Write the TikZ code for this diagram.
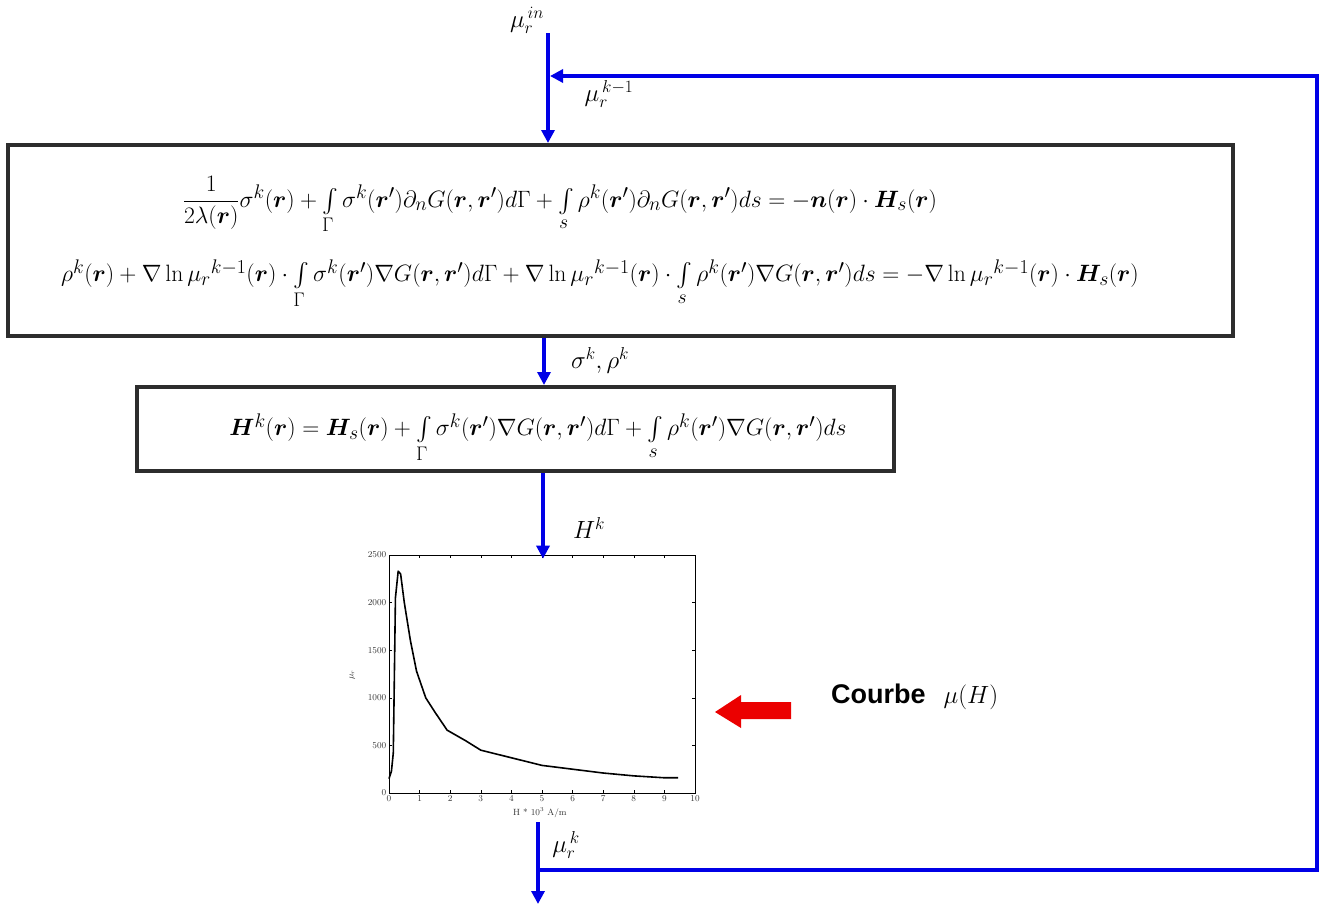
\documentclass[tikz,border=0pt]{standalone}
\usepackage{amsmath,bm}
\usepackage{fontspec}
\newfontfamily\arialfont{Liberation Sans}
\usetikzlibrary{arrows.meta}
\definecolor{flowblue}{RGB}{0,0,230}
\definecolor{boxgray}{RGB}{45,45,45}
\definecolor{arrowred}{RGB}{235,0,0}
\tikzset{
 flow/.style={draw=flowblue, line width=3.5pt, -{Triangle[length=13pt,width=13pt]}},
 eqbox/.style={draw=boxgray, line width=4pt, inner sep=0pt, fill=white},
 eqtext/.style={font=\fontsize{24.88}{28}\selectfont, inner sep=0pt, scale=0.95, transform shape},
 lbl/.style={font=\fontsize{26}{28}\selectfont, inner sep=0pt},
 ticklbl/.style={font=\fontsize{9}{10}\selectfont, inner sep=1pt, text=black!80},
}
\begin{document}
\begin{tikzpicture}[x=1pt,y=-1pt]
\useasboundingbox (0,0) rectangle (1327,905);

% boxes
\node[eqbox, minimum width=1225pt, minimum height=191pt] (b1) at (620.5,240.5) {};
\node[eqbox, minimum width=757pt, minimum height=84pt] (b2) at (515.5,429) {};

\node[eqtext] (e1) at (560,205) {$\dfrac{1}{2\lambda(\bm r)}\sigma^k(\bm r)+\int\limits_\Gamma \sigma^k(\bm r')\partial_n G(\bm r,\bm r')d\Gamma+\int\limits_s \rho^k(\bm r')\partial_n G(\bm r,\bm r')ds=-\bm n(\bm r)\cdot\bm H_s(\bm r)$};
\node[eqtext] (e2) at (600,284) {$\rho^k(\bm r)+\nabla\ln\mu_r{}^{k-1}(\bm r)\cdot\int\limits_\Gamma\sigma^k(\bm r')\nabla G(\bm r,\bm r')d\Gamma+\nabla\ln\mu_r{}^{k-1}(\bm r)\cdot\int\limits_s\rho^k(\bm r')\nabla G(\bm r,\bm r')ds=-\nabla\ln\mu_r{}^{k-1}(\bm r)\cdot\bm H_s(\bm r)$};
\node[eqtext] (e3) at (538,438) {$\bm H^k(\bm r)=\bm H_s(\bm r)+\int\limits_\Gamma\sigma^k(\bm r')\nabla G(\bm r,\bm r')d\Gamma+\int\limits_s\rho^k(\bm r')\nabla G(\bm r,\bm r')ds$};

% plot
\begin{scope}[shift={(389,793)}, x=30.6pt, y=0.0952pt]
\node[draw, line width=0.7pt, minimum width=306pt, minimum height=238pt, inner sep=0pt] (graph) at (5,1250) {};
\foreach \t in {0,...,10} {
  \draw[line width=0.4pt] (\t,0) -- (\t,35);
  \draw[line width=0.4pt] (\t,2500) -- (\t,2465);
  \node[ticklbl, anchor=north] at (\t,-15) {\t};
}
\foreach \t in {0,500,...,2500} {
  \draw[line width=0.4pt] (0,\t) -- (0.1,\t);
  \draw[line width=0.4pt] (10,\t) -- (9.9,\t);
  \node[ticklbl, anchor=east] at (-0.05,\t) {\t};
}
\node[ticklbl, rotate=90] (ylab) at (-1.2,1240) {$\mu_r$};
\node[ticklbl, anchor=north] (xlab) at (4.93,-140) {H * 10$^3$ A/m};
\draw[line width=1.6pt, line join=round] plot coordinates {(0,150) (0.08,230) (0.14,420) (0.17,1100) (0.21,2050) (0.3,2330) (0.38,2300) (0.5,2000) (0.7,1600) (0.9,1280) (1.2,1000) (1.5,850) (1.9,660) (2.5,550) (3,450) (4,370) (5,290) (6,250) (7,210) (8,180) (9,160) (9.45,160)};
\end{scope}

% coordinates for connectors
\coordinate (inTop) at (548,33);
\coordinate (c2) at (544,0);
\coordinate (c3) at (543,0);
\coordinate (outTop) at (538,822);
\coordinate (outEnd) at (538,904);
\coordinate (j) at (538,870);
\coordinate (rb) at (1317,870);
\coordinate (rt) at (1317,76);
\coordinate (fin) at (550,76);

\draw[flow] (inTop) -- (inTop |- b1.north);
\draw[flow] (b1.south -| c2) -- (b2.north -| c2);
\draw[flow] (b2.south -| c3) -- ([yshift=-4pt]graph.north -| c3);
\draw[flow] (outTop) -- (outEnd);
\draw[flow] (j) -- (rb) -- (rt) -- (fin);

% labels
\node[lbl] (lin) at (527,20) {$\mu_r^{\,in}$};
\node[lbl] (lk1) at (609,94) {$\mu_r^{\,k-1}$};
\node[lbl] (lsr) at (600,360) {$\sigma^k,\rho^k$};
\node[lbl] (lh) at (589,528) {$H^k$};
\node[lbl] (lmk) at (566,845) {$\mu_r^{\,k}$};

% red arrow and caption
\fill[arrowred] (715,712) -- (741,695) -- (741,702) -- (791,702) -- (791,719) -- (741,719) -- (741,728) -- cycle;
\node[font=\fontsize{27}{29}\selectfont, anchor=west, inner sep=0pt] (courbe) at (831,697) {{\arialfont\bfseries Courbe}\hspace{18pt}$\mu(H)$};
\end{tikzpicture}
\end{document}
